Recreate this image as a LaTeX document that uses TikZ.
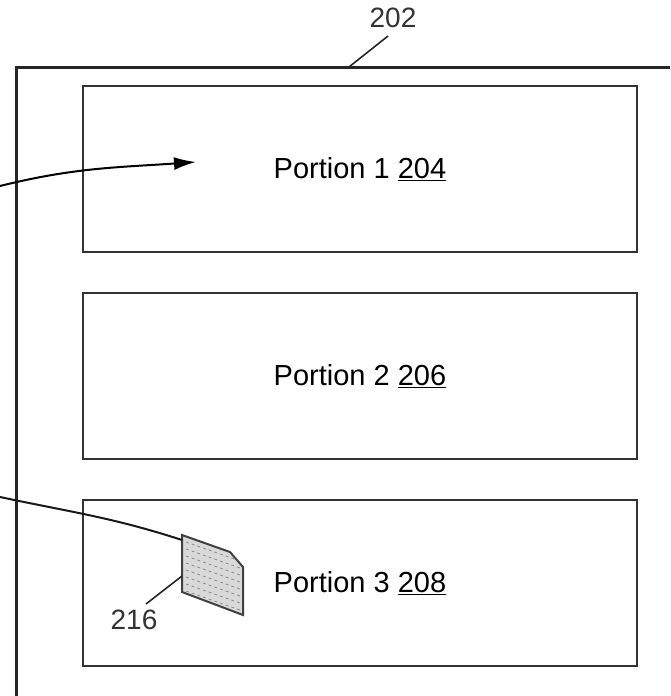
\documentclass[tikz,border=0pt]{standalone}
\usepackage{fontspec}
\setmainfont{Liberation Sans}
\usepackage{xcolor}
\usepackage{tikz}
\usetikzlibrary{positioning,arrows.meta}

\begin{document}
\begin{tikzpicture}[x=1pt,y=-1pt,node distance=39pt,
portion/.style={rectangle,draw=black!80,line width=2pt,
minimum width=554pt,minimum height=166pt,inner sep=0pt,font=\fontsize{29}{32}\selectfont},
refnum/.style={inner sep=1pt,font=\fontsize{28}{30}\selectfont,text=black!80},
leader/.style={draw=black!85,line width=1.6pt}]
    \useasboundingbox (0,0) rectangle (670,696);
    % outer frame, cut off at right and bottom
    \draw[black!85,line width=3pt] (670,67) -- (16,67) -- (16,696);
    \node[refnum] (Label frame) at (393,18) {202};
    \coordinate (frame top) at (349,67);
    \draw[leader] (388,36) -- (frame top);
    % portions
    \node[portion] (Portion one) at (360,169) {Portion 1 \underline{204}};
    \node[portion] (Portion two) [below=of Portion one] {Portion 2 \underline{206}};
    \node[portion] (Portion three) [below=of Portion two] {Portion 3 \underline{208}};
    % document icon
    \filldraw[draw=black!75,fill=black!15,line width=2pt]
        (182,535) -- (230,552) -- (243,567) -- (243,615) -- (182,592) -- cycle;
    \begin{scope}
        \clip (182,535) -- (230,552) -- (243,567) -- (243,615) -- (182,592) -- cycle;
        \foreach \k in {0,7,...,63}
            \draw[black!45,line width=0.8pt,dashed] (186,542+\k) -- (240,561+\k);
    \end{scope}
    \coordinate (doc corner) at (182,540);
    \coordinate (doc side) at (182,576);
    \node[refnum] (Label doc) at (134,620) {216};
    \draw[leader] (146,604) -- (doc side);
    % incoming connectors
    \coordinate (in one) at (0,186);
    \coordinate (tip one) at (196,162);
    \draw[black,line width=2pt,-{Latex[length=22pt,width=13pt]}] (in one) to [out=14,in=184] (tip one);
    \coordinate (in two) at (0,497);
    \draw[black!90,line width=2pt] (in two) to [out=-12,in=162] (doc corner);
\end{tikzpicture}
\end{document}
